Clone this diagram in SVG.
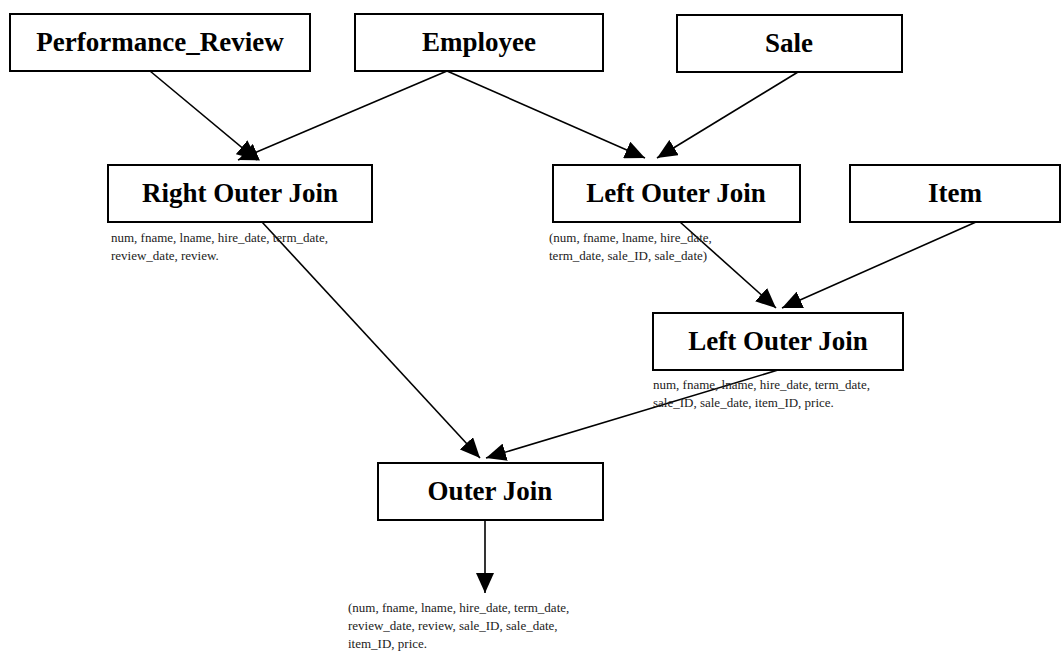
<svg xmlns="http://www.w3.org/2000/svg" width="1063" height="666" viewBox="0 0 1063 666">
<style>
.box{fill:#fff;stroke:#000;stroke-width:2}
.t{font-family:"Liberation Serif",serif;font-weight:bold;font-size:27px;text-anchor:middle;fill:#000}
.s{font-family:"Liberation Serif",serif;font-size:13px;fill:#222}
.c{stroke:#000;stroke-width:1.6;fill:none;marker-end:url(#ah)}
</style>
<defs>
<marker id="ah" markerUnits="userSpaceOnUse" markerWidth="22" markerHeight="18" refX="20" refY="9" orient="auto">
<path d="M0,0 L20,9 L0,18 Z" fill="#000"/>
</marker>
</defs>
<rect width="1063" height="666" fill="#fff"/>
<g id="connectors">
<line class="c" x1="150" y1="71" x2="257" y2="160"/>
<line class="c" x1="447" y1="71" x2="238" y2="160"/>
<line class="c" x1="447" y1="71" x2="645" y2="158"/>
<line class="c" x1="798" y1="72" x2="657" y2="158"/>
<line class="c" x1="262" y1="222" x2="480" y2="458"/>
<line class="c" x1="680" y1="222" x2="776" y2="308"/>
<line class="c" x1="976" y1="222" x2="782" y2="308"/>
<line class="c" x1="778" y1="370" x2="486" y2="458"/>
<line class="c" x1="485" y1="520" x2="485" y2="593"/>
</g>
<g id="performance_review">
<rect class="box" x="10" y="14" width="300" height="57"/>
<text class="t" x="160" y="51">Performance_Review</text>
</g>
<g id="employee">
<rect class="box" x="355" y="14" width="248" height="57"/>
<text class="t" x="479" y="51">Employee</text>
</g>
<g id="sale">
<rect class="box" x="677" y="15" width="225" height="57"/>
<text class="t" x="789" y="52">Sale</text>
</g>
<g id="right_outer_join">
<rect class="box" x="108" y="165" width="264" height="57"/>
<text class="t" x="240" y="202">Right Outer Join</text>
<text class="s" x="111" y="242">num, fname, lname, hire_date, term_date,</text>
<text class="s" x="111" y="260">review_date, review.</text>
</g>
<g id="left_outer_join_1">
<rect class="box" x="553" y="165" width="247" height="57"/>
<text class="t" x="676" y="202">Left Outer Join</text>
<text class="s" x="549" y="242">(num, fname, lname, hire_date,</text>
<text class="s" x="549" y="260">term_date, sale_ID, sale_date)</text>
</g>
<g id="item">
<rect class="box" x="850" y="165" width="210" height="57"/>
<text class="t" x="955" y="202">Item</text>
</g>
<g id="left_outer_join_2">
<rect class="box" x="653" y="313" width="250" height="57"/>
<text class="t" x="778" y="350">Left Outer Join</text>
<text class="s" x="653" y="389">num, fname, lname, hire_date, term_date,</text>
<text class="s" x="653" y="407">sale_ID, sale_date, item_ID, price.</text>
</g>
<g id="outer_join">
<rect class="box" x="378" y="463" width="225" height="57"/>
<text class="t" x="490" y="500">Outer Join</text>
<text class="s" x="348" y="612">(num, fname, lname, hire_date, term_date,</text>
<text class="s" x="348" y="630">review_date, review, sale_ID, sale_date,</text>
<text class="s" x="348" y="648">item_ID, price.</text>
</g>
</svg>
